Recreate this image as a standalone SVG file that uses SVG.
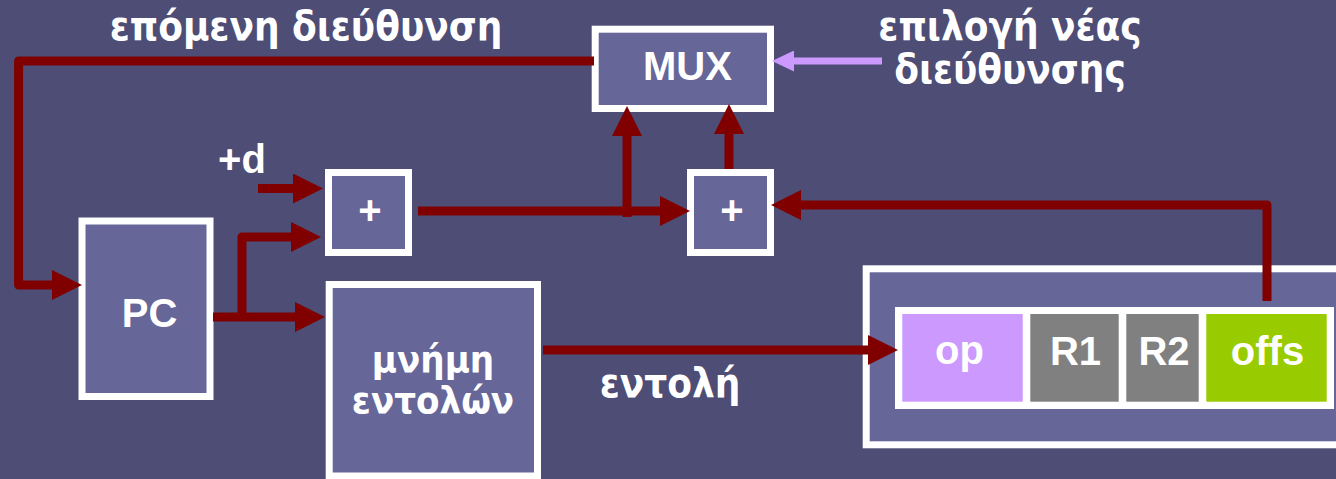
<svg xmlns="http://www.w3.org/2000/svg" width="1336" height="479" viewBox="0 0 1336 479">
<style>
.box{fill:#666699;stroke:#ffffff;stroke-width:7}
.lbl{font-family:"Liberation Sans",Arial,sans-serif;font-weight:bold;font-size:40px;fill:#ffffff;text-anchor:middle}
.gr{font-family:"DejaVu Sans Condensed","DejaVu Sans","Noto Sans",sans-serif;font-stretch:condensed;font-weight:bold;font-size:40px;fill:#ffffff;text-anchor:middle}
.mem{font-size:38px}
.wire{fill:none;stroke:#800000;stroke-width:9;stroke-linejoin:round}
.sel{fill:none;stroke:#cc99ff;stroke-width:7}
</style>
<defs>
<marker id="ah" markerUnits="userSpaceOnUse" markerWidth="30" markerHeight="30" viewBox="0 0 30 30" refX="2" refY="15" orient="auto">
<path d="M0,0 L30,15 L0,30 z" fill="#800000"/>
</marker>
<marker id="ahp" markerUnits="userSpaceOnUse" markerWidth="22" markerHeight="21" viewBox="0 0 22 21" refX="2" refY="10.5" orient="auto">
<path d="M0,0 L22,10.5 L0,21 z" fill="#cc99ff"/>
</marker>
</defs>
<rect x="0" y="0" width="1336" height="479" fill="#4d4d76"/>

<text class="gr" x="306" y="40">επόμενη διεύθυνση</text>
<text class="gr" x="1010" y="40">επιλογή νέας</text>
<text class="gr" x="1010" y="83">διεύθυνσης</text>
<text class="lbl" x="242" y="173">+d</text>
<text class="gr" x="670" y="397">εντολή</text>

<g id="mux">
<rect class="box" x="595.2" y="29.2" width="175.3" height="79.3"/>
<text class="lbl" x="687.5" y="80">MUX</text>
</g>
<g id="pc">
<rect class="box" x="82" y="221" width="128" height="175.5"/>
<text class="lbl" x="149.5" y="327">PC</text>
</g>
<g id="add1">
<rect class="box" x="328.5" y="172.5" width="80" height="80"/>
<text class="lbl" x="370" y="224">+</text>
</g>
<g id="add2">
<rect class="box" x="690.5" y="172.5" width="80" height="80"/>
<text class="lbl" x="732" y="224">+</text>
</g>
<g id="imem">
<rect class="box" x="329.2" y="284.5" width="208.3" height="191.5"/>
<text class="gr mem" x="433" y="372">μνήμη</text>
<text class="gr mem" x="433" y="413">εντολών</text>
</g>
<g id="ir">
<rect class="box" x="866.2" y="268.8" width="480" height="176"/>
<rect x="895" y="307" width="439" height="102" fill="#ffffff"/>
<rect x="902.3" y="314" width="120.4" height="87.7" fill="#cc99ff"/>
<rect x="1030.3" y="314" width="88.4" height="87.7" fill="#808080"/>
<rect x="1126.3" y="314" width="72.4" height="87.7" fill="#808080"/>
<rect x="1206.3" y="314" width="120.4" height="87.7" fill="#99cc00"/>
<text class="lbl" x="959.5" y="364">op</text>
<text class="lbl" x="1075.5" y="365">R1</text>
<text class="lbl" x="1164" y="365">R2</text>
<text class="lbl" x="1267.5" y="365">offs</text>
</g>

<g id="connectors">
<path class="wire" d="M594,61 H18.6 V285 H54" marker-end="url(#ah)"/>
<path class="wire" d="M258,188.5 H295" marker-end="url(#ah)"/>
<path class="wire" d="M213,317 H297" marker-end="url(#ah)"/>
<path class="wire" d="M242,317 V237 H293" marker-end="url(#ah)"/>
<path class="wire" d="M418,211 H662" marker-end="url(#ah)"/>
<path class="wire" d="M627,217 V134" marker-end="url(#ah)"/>
<path class="wire" d="M729,169 V132" marker-end="url(#ah)"/>
<path class="wire" d="M1267,301 V205 H799" marker-end="url(#ah)"/>
<path class="wire" d="M543,350 H870" marker-end="url(#ah)"/>
<path class="sel" d="M882,61 H792" marker-end="url(#ahp)"/>
</g>
</svg>
